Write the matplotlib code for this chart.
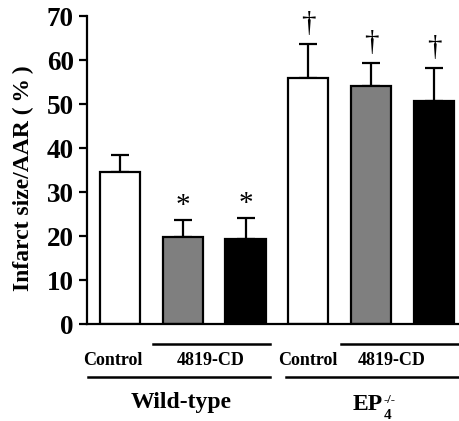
import matplotlib.pyplot as plt
from matplotlib.transforms import blended_transform_factory

plt.rcParams['font.family'] = ['Liberation Serif', 'DejaVu Serif']
plt.rcParams['font.weight'] = 'bold'

# infarct size / AAR (%), mean and upper error
groups = ['Control', '4819-CD', '4819-CD', 'Control', '4819-CD', '4819-CD']
means = [34.5, 19.8, 19.3, 56.0, 54.2, 50.7]
errors = [3.9, 3.8, 4.8, 7.6, 5.2, 7.5]
fills = ['white', '#7f7f7f', 'black', 'white', '#7f7f7f', 'black']
marks = ['', '*', '*', '\u2020', '\u2020', '\u2020']

fig = plt.figure(figsize=(4.59, 4.21), dpi=100)
ax = fig.add_axes([87/459, 1-324/421, 1-87/459, (324-16)/421])

xs = list(range(len(means)))
ax.bar(xs, means, width=0.64, color=fills, edgecolor='black', linewidth=1.6, zorder=2)
ax.errorbar(xs, means, yerr=[[0]*len(errors), errors], fmt='none', ecolor='black',
            elinewidth=1.6, capsize=6.5, capthick=1.6, zorder=1)

for x, m, e, s in zip(xs, means, errors, marks):
	if s == '*':
		ax.annotate(s, (x, m+e), xytext=(0, 1), textcoords='offset points',
		            ha='center', va='bottom', fontsize=21, fontweight='normal')
	elif s:
		ax.annotate(s, (x, m+e), xytext=(0, 5), textcoords='offset points',
		            ha='center', va='bottom', fontsize=21, fontweight='normal')

ax.set_xlim(-0.525, 5.4)
ax.set_ylim(0, 70)
ax.set_yticks(range(0, 71, 10))
ax.set_xticks([])
ax.tick_params(axis='y', labelsize=19.5, width=1.6, length=6)
ax.spines['top'].set_visible(False)
ax.spines['right'].set_visible(False)
ax.spines['left'].set_linewidth(1.6)
ax.spines['bottom'].set_linewidth(1.6)
fig.text(23/459, 1-178/421, 'Infarct size/AAR (\u2009%\u2009)', rotation=90,
         ha='center', va='center', fontsize=17, fontweight='bold')

# group labels under the axis
tr = blended_transform_factory(ax.transData, ax.transAxes)
for x0, x1, y in [(0.525, 2.39, -0.065), (-0.51, 2.39, -0.172),
                  (3.52, 5.4, -0.065), (2.64, 5.4, -0.172)]:
	ax.plot([x0, x1], [y, y], color='black', lw=1.8, transform=tr, clip_on=False)
for x, t in [(-0.11, 'Control'), (1.45, '4819-CD'), (2.99, 'Control'), (4.33, '4819-CD')]:
	ax.text(x, -0.12, t, transform=tr, ha='center', va='center', fontsize=13)
ax.text(0.97, -0.256, 'Wild-type', transform=tr, ha='center', va='center', fontsize=17)
ep = ax.text(3.95, -0.279, 'EP', transform=tr, ha='center', va='baseline', fontsize=17)
ax.annotate('4', xy=(1, 0), xycoords=ep, xytext=(0.5, -5), textcoords='offset points',
            ha='left', va='bottom', fontsize=11)
ax.annotate('-/-', xy=(1, 1), xycoords=ep, xytext=(0.5, 0), textcoords='offset points',
            ha='left', va='top', fontsize=9)

plt.savefig('out.png', dpi=100)
